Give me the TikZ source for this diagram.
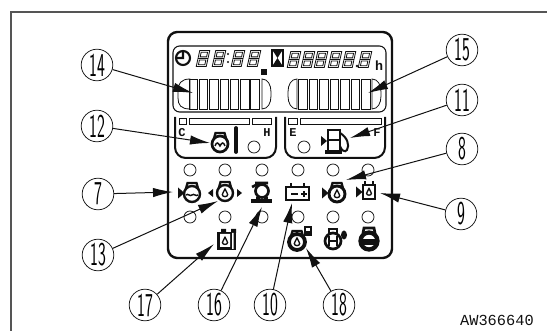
\documentclass[tikz,border=0pt]{standalone}
\usepackage{xcolor}
\usepackage{tikz}
\usepackage{fontspec}
\setmonofont{Liberation Mono}
\usetikzlibrary{arrows.meta, positioning, calc}
\definecolor{inkblk}{HTML}{111111}
\definecolor{framegray}{HTML}{555555}

\tikzset{
    callout/.style={draw=inkblk, circle, line width=0.55pt, minimum size=23.7pt, inner sep=0pt, fill=white,
                    font=\fontsize{25}{25}\sffamily},
    lead/.style={-{Latex[length=15pt, width=7pt]}, line width=0.75pt, inkblk},
    lamp/.style={draw=inkblk, line width=0.55pt, fill=white},
    cell/.style={draw=inkblk, line width=0.6pt},
    gaugeletter/.style={font=\fontsize{9}{9}\ttfamily\bfseries, inner sep=0pt, text=inkblk},
}
% one stretched seven segment figure
\newcommand{\segfig}[1]{\begin{scope}[shift={#1}, xslant=-0.22]
    \draw[inkblk, line width=0.6pt] (-5,-8) rectangle (5,8) (-5,0) -- (5,0)
        (-3.2,-6.3) rectangle (3.2,-1.6) (-3.2,1.6) rectangle (3.2,6.3);
\end{scope}}
\newcommand{\oildrop}[2][0.8]{\begin{scope}[shift={#2}, scale=#1]
    \draw[inkblk, line width=1pt, fill=white] (0,-5) .. controls (1,-2) and (3.4,0) .. (3.4,2)
        .. controls (3.4,5.4) and (-3.4,5.4) .. (-3.4,2) .. controls (-3.4,0) and (-1,-2) .. (0,-5) -- cycle;
\end{scope}}
\newcommand{\enginecap}[2]{\begin{scope}[shift={#2}]
    \draw[inkblk, line width=1.7pt, fill=white] (-6.5,-4) -- (-4.5,-11) -- (4.5,-11) -- (6.5,-4);
    \draw[inkblk, line width=#1, fill=white] (0,0) circle (8);
\end{scope}}
\newcommand{\feedtip}[1]{\begin{scope}[shift={#1}]
    \fill[inkblk] (0,-5.5) -- (6.5,0) -- (0,5.5) -- cycle;
\end{scope}}

\begin{document}
\begin{tikzpicture}[x=0.75pt, y=0.75pt, yscale=-1]
    \useasboundingbox (0,0) rectangle (547,331);

    % === sheet frame ===
    \draw[framegray, line width=1pt] (547,12) -- (11,12) -- (11,331);
    \node[font=\fontsize{11.5}{11.5}\ttfamily, text=inkblk, anchor=east, inner sep=0pt] (partno) at (534,320) {AW366640};

    % === panel ===
    \draw[inkblk, line width=1.8pt, rounded corners=7pt, fill=white] (168,32) rectangle (392,258);
    \draw[inkblk, line width=0.8pt, rounded corners=5pt] (173,46) rectangle (386,112);

    % === hour readouts ===
    \draw[inkblk, line width=1.6pt] (183,58) circle (7) (183,51) -- (183,58) -- (176,58);
    \foreach \px in {203,219,238,254} { \segfig{(\px,58.5)} }
    \foreach \px in {294,308,321,335,349,365} { \segfig{(\px,59.5)} }
    \fill[inkblk] (228,54) circle (1.2) (228,62) circle (1.2) (357,66) circle (1.3);
    \fill[inkblk] (261,69) rectangle (267,75);
    \draw[inkblk, line width=1.4pt] (272,50) rectangle (283,66);
    \fill[inkblk] (273,51) -- (282,51) -- (277.5,58) -- cycle (273,65) -- (282,65) -- (277.5,58) -- cycle;
    \node[font=\fontsize{10}{10}\ttfamily\bfseries, inner sep=0pt, text=inkblk] (hourmark) at (379,66) {h};

    % === upper gauges ===
    \draw[cell] (190,79) .. controls (181,79) and (178,84) .. (178,90) -- (178,98)
        .. controls (178,105) and (181,109) .. (190,109) -- cycle;
    \draw[cell] (262,79) .. controls (268,79) and (271,85) .. (271,92) -- (271,96)
        .. controls (271,103) and (268,109) .. (262,109) -- cycle;
    \foreach \bx in {189,199.3,209.6,219.9,230.2,240.5,250.8} { \draw[cell] (\bx,79) rectangle ++(8.4,30); }
    \draw[cell] (297,79) .. controls (291,79) and (288,85) .. (288,92) -- (288,96)
        .. controls (288,103) and (291,109) .. (297,109) -- cycle;
    \draw[cell] (372,79) .. controls (378,79) and (381,85) .. (381,92) -- (381,96)
        .. controls (381,103) and (378,109) .. (372,109) -- cycle;
    \foreach \bx in {298.5,309,319.5,330,340.5,351,361.5} { \draw[cell] (\bx,79) rectangle ++(8.6,30); }

    % === lower gauges ===
    \draw[inkblk, line width=1.5pt, rounded corners=8pt] (175,117) -- (175,158) -- (276,158) -- (276,117);
    \draw[inkblk, line width=1.5pt, rounded corners=8pt] (285,117) -- (285,158) -- (385,158) -- (385,117);
    \draw[cell] (179,118) rectangle (186,124) (189,118) rectangle (249,124) (252,118) rectangle (271,124);
    \draw[cell] (288,118) rectangle (297,124) (300,118) rectangle (381,124);
    \node[gaugeletter] (letc) at (182,133) {C};
    \node[gaugeletter] (leth) at (267,133) {H};
    \node[gaugeletter] (lete) at (293,133) {E};
    \node[gaugeletter] (letf) at (377,133) {F};
    \draw[lamp] (254,147) circle (6) (304,147) circle (6);

    % temperature mark
    \enginecap{2pt}{(220,144)}
    \draw[inkblk, line width=1.1pt] (215,146) .. controls (216.5,142) and (218,142) .. (220,146)
        .. controls (222,142) and (223.5,142) .. (225,146);
    \draw[inkblk, line width=2.8pt, line cap=round] (236,128) -- (236,152);

    % fuel mark
    \draw[inkblk, line width=1.9pt] (328,130) rectangle (340,151) (328,140) -- (340,140);
    \draw[inkblk, line width=2.8pt] (325,152) -- (342,152);
    \fill[inkblk] (321,136) -- (327,141) -- (321,146) -- cycle;
    \draw[inkblk, line width=1.5pt] (340,133) .. controls (347,137) and (350,145) .. (347,150)
        .. controls (345,153) and (341,150) .. (340,146);

    % === warning lamps ===
    \foreach \px in {190,225,262,298,333,368} { \draw[lamp] (\px,170) circle (6); }
    \foreach \px in {190,225,262,298,333,368} { \draw[lamp] (\px,217) circle (6); }

    % === upper row marks ===
    \enginecap{1.8pt}{(192,194)}
    \feedtip{(178,193)}
    \draw[inkblk, line width=1.1pt] (186,195) .. controls (188,193) and (190,197) .. (192,195)
        .. controls (194,193) and (196,197) .. (198,195);

    \enginecap{1.8pt}{(225,193)}
    \oildrop{(225,193)}
    \fill[inkblk] (213,189) -- (213,197) -- (208,193) -- cycle (237,189) -- (237,197) -- (242,193) -- cycle;

    \draw[inkblk, line width=2pt] (262,191) circle (6.5);
    \draw[inkblk, line width=2pt] (255,183) -- (268,183) (252,187) -- (258,184);
    \draw[inkblk, line width=3pt] (251,201) -- (272,201) (258,197) -- (258,201) (266,197) -- (266,201);

    \draw[inkblk, line width=2pt] (286,187) rectangle (309,200);
    \draw[inkblk, line width=2pt] (291,183) -- (291,187) (304,183) -- (304,187) (291,194) -- (298,194) (301,194) -- (307,194) (304,191) -- (304,197);

    \enginecap{2.2pt}{(337,194)}
    \oildrop{(337,194)}
    \feedtip{(322,193)}
    \draw[inkblk, line width=2.2pt, fill=white] (363,185) rectangle (375,199);
    \draw[inkblk, line width=2pt] (365,181) -- (365,185) (373,181) -- (373,185);
    \oildrop[0.7]{(369,192)}
    \feedtip{(356,192)}

    % === lower row marks ===
    \fill[inkblk] (217,232) rectangle (236,250);
    \fill[inkblk] (221,229) rectangle (226,233) (231,229) rectangle (236,233);
    \fill[white] (220,234) rectangle (230,247) (232,233) rectangle (233.5,249);
    \oildrop[0.75]{(225,241)}

    \enginecap{2.8pt}{(297,242)}
    \oildrop{(297,242)}
    \fill[inkblk] (304,226) rectangle (312,236);
    \fill[white] (306,228) rectangle (310,231);

    \draw[inkblk, line width=2pt, fill=white] (333,241) circle (8);
    \draw[inkblk, line width=2pt] (329,233) -- (329,229) -- (337,229) -- (337,233);
    \draw[inkblk, line width=1.4pt] (329,236) -- (329,246) (337,236) -- (337,246) (329,241) -- (337,241);
    \fill[inkblk] (344,235) ellipse (3 and 4.5);

    \draw[inkblk, line width=2pt] (363,233) -- (364,228) -- (374,228) -- (375,233);
    \draw[inkblk, line width=3.2pt, fill=white] (369,241) circle (8.5);
    \fill[inkblk] (362,239) rectangle (376,245);

    % === callouts ===
    \node[callout] (n14) at (97,65) {\scalebox{0.5}[1]{14}};
    \node[callout] (n12) at (97,126) {\scalebox{0.5}[1]{12}};
    \node[callout] (n7) at (98,194) {\scalebox{0.5}[1]{7}};
    \node[callout] (n13) at (98,255) {\scalebox{0.5}[1]{13}};
    \node[callout] (n17) at (145,305) {\scalebox{0.5}[1]{17}};
    \node[callout] (n16) at (214,305) {\scalebox{0.5}[1]{16}};
    \node[callout] (n10) at (270,305) {\scalebox{0.5}[1]{10}};
    \node[callout] (n18) at (339,305) {\scalebox{0.5}[1]{18}};
    \node[callout] (n15) at (462,50) {\scalebox{0.5}[1]{15}};
    \node[callout] (n11) at (462,100) {\scalebox{0.5}[1]{11}};
    \node[callout] (n8) at (462,149) {\scalebox{0.5}[1]{8}};
    \node[callout] (n9) at (461,214) {\scalebox{0.5}[1]{9}};

    \coordinate (t14) at (193,93);
    \coordinate (t12) at (210,143);
    \coordinate (t7) at (173,192);
    \coordinate (t13) at (218,201);
    \coordinate (t17) at (214,244);
    \coordinate (t16) at (262,207);
    \coordinate (t10) at (292,203);
    \coordinate (t18) at (306,248);
    \coordinate (t15) at (368,93);
    \coordinate (t11) at (350,138);
    \coordinate (t8) at (346,180);
    \coordinate (t9) at (380,193);

    \foreach \nn in {14,12,7,13,17,16,10,18,15,11,8,9} { \draw[lead] (n\nn) -- (t\nn); }
\end{tikzpicture}
\end{document}
